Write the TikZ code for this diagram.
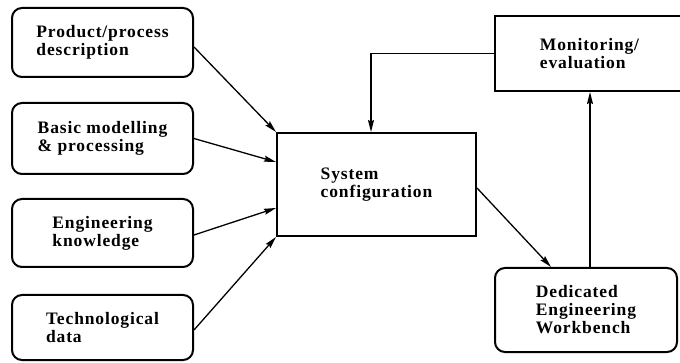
\documentclass[tikz,border=0pt]{standalone}
\usepackage{fontspec}
\setmainfont{Liberation Serif}[LetterSpace=5]
\usetikzlibrary{arrows.meta,calc}
\begin{document}
\begin{tikzpicture}[x=1pt,y=-1pt,
  every node/.style={font=\bfseries\fontsize{17.5}{18}\selectfont, align=left, inner sep=0pt},
  roundbox/.style={draw, line width=2pt, rounded corners=10pt},
  squarebox/.style={draw, line width=2pt},
  conn/.style={line width=1.3pt, -{Stealth[length=12pt,width=6pt,inset=1.5pt]}}]
\useasboundingbox (0,0) rectangle (680,363);
\clip (0,0) rectangle (680,363);

% input boxes on the left
\node[roundbox, minimum width=181pt, minimum height=69pt] (prod) at (102.5,42.5) {Product/process\\description};
\node[roundbox, minimum width=181pt, minimum height=71pt] (basic) at (102.5,138.5) {Basic modelling\\\& processing};
\node[roundbox, minimum width=181pt, minimum height=68pt] (know) at (102.5,233) {Engineering\\knowledge};
\node[roundbox, minimum width=181pt, minimum height=65pt] (tech) at (102.5,327.5) {Technological\\data};

% central configuration step
\node[squarebox, minimum width=199pt, minimum height=103pt] (cfg) at (376.5,184.5) {System\\configuration};

% right-hand loop
\node[squarebox, minimum width=189pt, minimum height=75pt] (mon) at (589.5,53.5) {Monitoring/\\evaluation};
\node[roundbox, minimum width=182pt, minimum height=84pt] (ded) at (586,310) {Dedicated\\Engineering\\Workbench};

% connectors
\draw[conn] ($(prod.east)+(0,4.5)$) -- (cfg.north west);
\draw[conn] (basic.east) -- ($(cfg.north west)+(0,30)$);
\draw[conn] ($(know.east)+(0,2)$) -- ($(cfg.north west)+(0,76)$);
\draw[conn] ($(tech.east)+(0,2.5)$) -- (cfg.south west);
\draw[conn] ($(cfg.north east)+(0,56)$) -- ($(ded.north west)+(57,0)$);
\coordinate (up) at ($(ded.north west)+(96,0)$);
\draw[conn] (up) -- (up |- mon.south);
\coordinate (down) at ($(cfg.north west)+(95,0)$);
\draw[conn] (mon.west) -| (down);
\end{tikzpicture}
\end{document}
